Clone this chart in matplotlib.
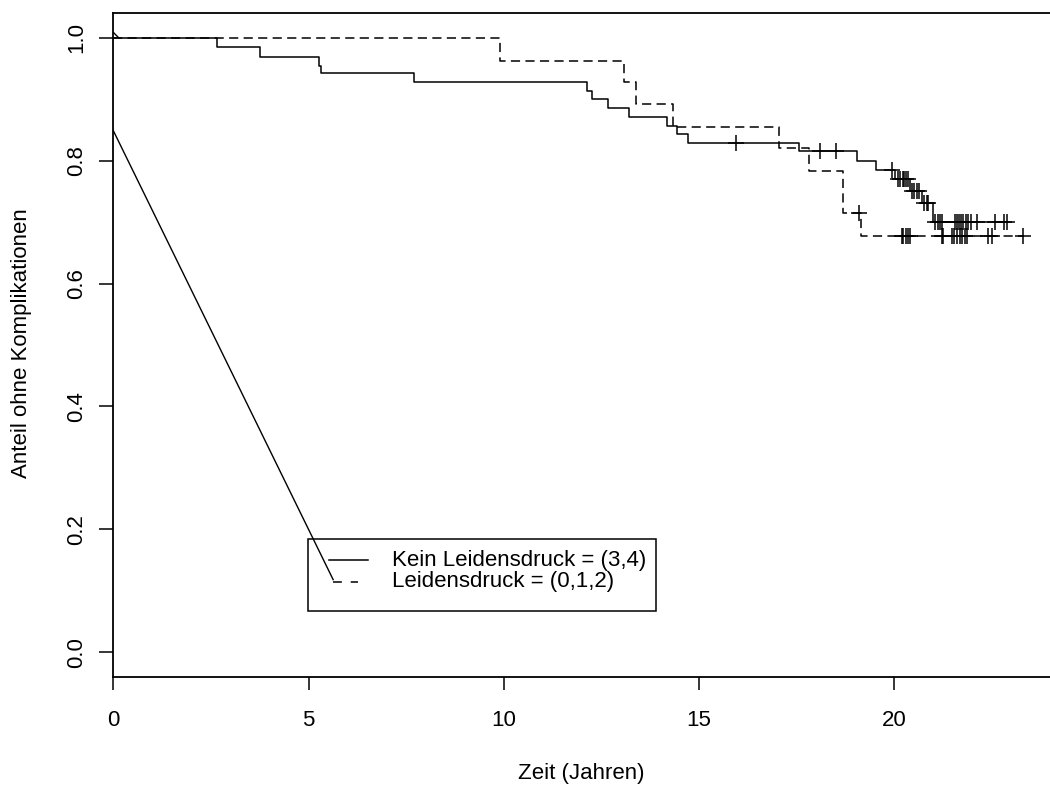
import matplotlib
matplotlib.use("Agg")
import matplotlib.pyplot as plt
from matplotlib.patches import Rectangle
from matplotlib.lines import Line2D
import numpy as np

plt.rcParams['font.family'] = ['Liberation Sans', 'DejaVu Sans']

# ---- data (Kaplan-Meier curves) ----
# Group 1: Kein Leidensdruck = (3,4)  (solid)
kein_event_t = [2.65, 3.76, 5.28, 5.32, 7.70, 12.14, 12.25, 12.66, 13.21, 14.19,
                14.44, 14.71, 17.56, 19.05, 19.53, 20.02, 20.40, 20.72, 20.98]
kein_surv = [0.985, 0.969, 0.954, 0.942, 0.928, 0.914, 0.900, 0.886, 0.871, 0.857,
             0.844, 0.829, 0.816, 0.800, 0.785, 0.770, 0.751, 0.731, 0.700]
kein_censor_t = [15.94, 18.10, 18.51, 19.95, 20.09, 20.15, 20.21, 20.25, 20.30, 20.35,
                 20.45, 20.51, 20.57, 20.64, 20.77, 20.83, 20.87,
                 21.05, 21.11, 21.18, 21.22, 21.55, 21.61, 21.66, 21.71, 21.77,
                 21.83, 21.90, 21.96, 22.11, 22.57, 22.81, 22.88]

# Group 2: Leidensdruck = (0,1,2)  (dashed)
leid_event_t = [9.90, 13.09, 13.38, 14.34, 17.05, 17.82, 18.68, 19.15]
leid_surv = [0.962, 0.928, 0.893, 0.855, 0.821, 0.784, 0.715, 0.677]
leid_censor_t = [19.09, 20.19, 20.23, 20.29, 20.34, 20.39,
                 21.21, 21.25, 21.47, 21.54, 21.61, 21.67, 21.73, 21.80, 21.86,
                 22.41, 22.49, 23.30]

# stray diagonal segments present in the original graphic
diag_x = [0.0, 5.63]
diag_y = [0.849, 0.118]
tick_x = [0.0, 0.14]
tick_y = [1.009, 1.0]

x_ticks = [0, 5, 10, 15, 20]
x_ticklabels = ["0", "5", "10", "15", "20"]
y_ticks = [0.0, 0.2, 0.4, 0.6, 0.8, 1.0]
y_ticklabels = ["0.0", "0.2", "0.4", "0.6", "0.8", "1.0"]

legend_labels = ["Kein Leidensdruck = (3,4)", "Leidensdruck = (0,1,2)"]
x_label = "Zeit (Jahren)"
y_label = "Anteil ohne Komplikationen"


def km_steps(event_t, surv, censor_t):
    t_end = max(max(event_t), max(censor_t))
    xs = [0.0] + list(event_t) + [t_end]
    ys = [1.0] + list(surv) + [surv[-1]]
    return xs, ys


def surv_at(t, event_t, surv):
    s = 1.0
    for et, sv in zip(event_t, surv):
        if et <= t:
            s = sv
    return s


FS = 16
W, H = 1050, 789
fig = plt.figure(figsize=(W / 100, H / 100), dpi=100)
left_px, right_px, top_px, bot_px = 113.3, 1050.5, 13.3, 676.7
ax = fig.add_axes([left_px / W, 1 - bot_px / H, (right_px - left_px) / W, (bot_px - top_px) / H])
ax.set_xlim(0, (right_px - left_px) / 39.05)
ax.set_ylim(-0.04, 1.04)

lw = 1.1
# solid curve
xs, ys = km_steps(kein_event_t, kein_surv, kein_censor_t)
ax.step(xs, ys, where='post', color='black', lw=lw)
ax.plot(kein_censor_t, [surv_at(t, kein_event_t, kein_surv) for t in kein_censor_t],
        ls='none', marker='+', ms=12, mew=1.1, color='black')
# dashed curve
xs, ys = km_steps(leid_event_t, leid_surv, leid_censor_t)
ax.step(xs, ys, where='post', color='black', lw=lw, dashes=(6, 3.5))
ax.plot(leid_censor_t, [surv_at(t, leid_event_t, leid_surv) for t in leid_censor_t],
        ls='none', marker='+', ms=12, mew=1.1, color='black')

# stray segments
ax.plot(diag_x, diag_y, color='black', lw=1.0)
ax.plot(tick_x, tick_y, color='black', lw=1.0)

# legend box drawn manually (R-style)
ax.add_patch(Rectangle((4.98, 0.0676), 13.90 - 4.98, 0.1846 - 0.0676,
                       fill=False, edgecolor='black', lw=1.1))
ax.add_line(Line2D([5.53, 6.51], [0.1494, 0.1494], color='black', lw=lw))
ax.add_line(Line2D([5.63, 6.27], [0.1146, 0.1146], color='black', lw=lw, dashes=(5.8, 5.8)))
ax.text(7.13, 0.1494, legend_labels[0], fontsize=FS, va='center', ha='left')
ax.text(7.13, 0.1146, legend_labels[1], fontsize=FS, va='center', ha='left')

# axes styling
for s in ['top', 'right', 'left', 'bottom']:
    ax.spines[s].set_linewidth(1.3)
ax.set_xticks(x_ticks)
ax.set_xticklabels(x_ticklabels)
ax.set_yticks(y_ticks)
ax.set_yticklabels(y_ticklabels, rotation=90, va='center')
ax.tick_params(axis='x', length=9.1, width=1.1, labelsize=FS, pad=15)
ax.tick_params(axis='y', length=9.9, width=1.1, labelsize=FS, pad=9)

ax.set_xlabel(x_label, fontsize=FS)
ax.xaxis.label.set_va('center')
ax.xaxis.set_label_coords(0.499, (bot_px - 774) / (bot_px - top_px))
ax.set_ylabel(y_label, fontsize=FS)
ax.yaxis.label.set_va('center')
ax.yaxis.set_label_coords((22 - left_px) / (right_px - left_px), (bot_px - 343) / (bot_px - top_px))

fig.savefig("out.png", dpi=100)
